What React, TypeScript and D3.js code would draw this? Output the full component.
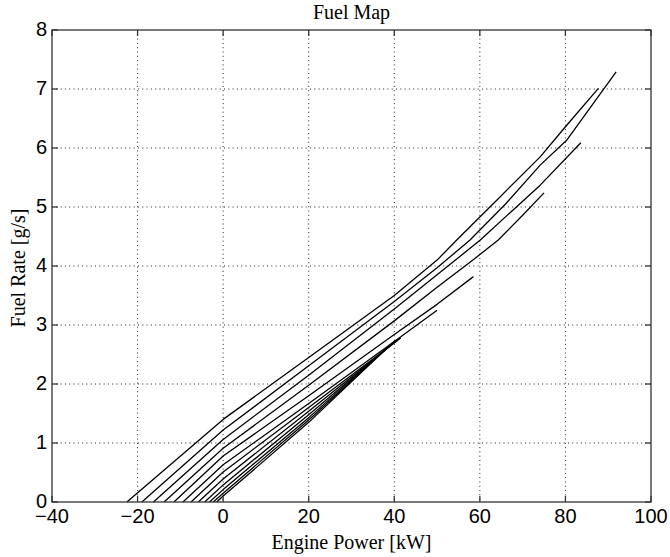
import React, { useEffect, useRef } from "react";
import * as d3 from "d3";

// engine power [kW] / fuel rate [g/s] pairs, one list per speed line
const speedLine1 = [[-22.5, 0], [0, 1.4], [20, 2.45], [40, 3.5], [50, 4.1], [54.6, 4.44], [64, 5.12], [74.1, 5.85], [80, 6.36], [87.7, 7.01]];
const speedLine2 = [[-19, 0], [0, 1.22], [20, 2.31], [40, 3.4], [50, 3.97], [57.7, 4.44], [66, 5.05], [74.1, 5.71], [80.4, 6.14], [91.85, 7.29]];
const speedLine3 = [[-16.3, 0], [0, 1.06], [20, 2.15], [40, 3.27], [50, 3.85], [60.1, 4.44], [67, 4.9], [74.1, 5.37], [83.6, 6.09]];
const speedLine4 = [[-13.8, 0], [0, 0.91], [20, 1.98], [40, 3.07], [50, 3.64], [58, 4.08], [64.3, 4.44], [70, 4.86], [75, 5.24]];
const speedLine5 = [[-11.5, 0], [0, 0.78], [20, 1.8], [40, 2.84], [50, 3.35], [58.5, 3.82]];
const speedLine6 = [[-9.4, 0], [0, 0.63], [20, 1.67], [40, 2.72], [50, 3.25]];
const speedLine7 = [[-7.5, 0], [0, 0.51], [20, 1.6], [41.5, 2.78]];
const speedLine8 = [[-5.8, 0], [0, 0.39], [20, 1.54], [41.2, 2.77]];
const speedLine9 = [[-4.3, 0], [0, 0.29], [20, 1.48], [40.8, 2.76]];
const speedLine10 = [[-3.2, 0], [0, 0.21], [20, 1.43], [40.4, 2.74]];
const speedLine11 = [[-2.3, 0], [0, 0.15], [20, 1.39], [40, 2.72]];
const speedLine12 = [[-1.5, 0], [0, 0.1], [20, 1.35], [39.6, 2.7]];

const xTicks = [-40, -20, 0, 20, 40, 60, 80, 100];
const yTicks = [0, 1, 2, 3, 4, 5, 6, 7, 8];

const App = () => {
  const ref = useRef<SVGSVGElement | null>(null);

  useEffect(() => {
    if (!ref.current) return;
    const width = 670, height = 557;
    const left = 52, right = 651, top = 30, bottom = 502;

    const svg = d3.select(ref.current);
    svg.selectAll("*").remove();

    const x = d3.scaleLinear().domain([-40, 100]).range([left, right]);
    const y = d3.scaleLinear().domain([0, 8]).range([bottom, top]);

    // dotted grid
    const grid = svg.append("g").attr("stroke", "#222").attr("stroke-width", 1).attr("stroke-dasharray", "1,3.3");
    grid.selectAll(".gx")
      .data(xTicks.slice(1, -1))
      .enter()
      .append("line")
      .attr("x1", d => x(d)).attr("x2", d => x(d))
      .attr("y1", top).attr("y2", bottom);
    grid.selectAll(".gy")
      .data(yTicks.slice(1, -1))
      .enter()
      .append("line")
      .attr("x1", left).attr("x2", right)
      .attr("y1", d => y(d)).attr("y2", d => y(d));

    // curves
    const curves = [speedLine1, speedLine2, speedLine3, speedLine4, speedLine5, speedLine6,
      speedLine7, speedLine8, speedLine9, speedLine10, speedLine11, speedLine12];
    const line = d3.line<number[]>().x(d => x(d[0])).y(d => y(d[1]));
    svg.append("g")
      .selectAll("path")
      .data(curves)
      .enter()
      .append("path")
      .attr("d", d => line(d))
      .attr("fill", "none")
      .attr("stroke", "#000")
      .attr("stroke-width", 1.3)
      .attr("stroke-linejoin", "round");

    // axes box with inward ticks on all sides
    const tickLen = 6;
    const ax = svg.append("g").attr("stroke", "#333").attr("stroke-width", 1.3);
    ax.append("rect")
      .attr("x", left).attr("y", top)
      .attr("width", right - left).attr("height", bottom - top)
      .attr("fill", "none");
    xTicks.forEach(t => {
      ax.append("line").attr("x1", x(t)).attr("x2", x(t)).attr("y1", bottom).attr("y2", bottom - tickLen);
      ax.append("line").attr("x1", x(t)).attr("x2", x(t)).attr("y1", top).attr("y2", top + tickLen);
    });
    yTicks.forEach(t => {
      ax.append("line").attr("x1", left).attr("x2", left + tickLen).attr("y1", y(t)).attr("y2", y(t));
      ax.append("line").attr("x1", right).attr("x2", right - tickLen).attr("y1", y(t)).attr("y2", y(t));
    });

    // tick labels
    const sans = "'Liberation Sans', Arial, sans-serif";
    svg.append("g")
      .selectAll("text")
      .data(xTicks)
      .enter()
      .append("text")
      .attr("x", d => x(d))
      .attr("y", 523)
      .attr("text-anchor", "middle")
      .style("font-family", sans)
      .style("font-size", "20px")
      .text(d => (d < 0 ? "\u2212" + Math.abs(d) : String(d)));

    svg.append("g")
      .selectAll("text")
      .data(yTicks)
      .enter()
      .append("text")
      .attr("x", 47)
      .attr("y", d => y(d) - 1.5)
      .attr("dy", "0.36em")
      .attr("text-anchor", "end")
      .style("font-family", sans)
      .style("font-size", "20px")
      .text(d => String(d));

    const serif = "'Liberation Serif', 'Times New Roman', serif";
    svg.append("text")
      .attr("x", (left + right) / 2)
      .attr("y", 19)
      .attr("text-anchor", "middle")
      .style("font-family", serif)
      .style("font-size", "20px")
      .text("Fuel Map");

    svg.append("text")
      .attr("x", (left + right) / 2)
      .attr("y", 549)
      .attr("text-anchor", "middle")
      .style("font-family", serif)
      .style("font-size", "20px")
      .text("Engine Power [kW]");

    svg.append("text")
      .attr("transform", `translate(25,${(top + bottom) / 2 + 2}) rotate(-90)`)
      .attr("text-anchor", "middle")
      .style("font-family", serif)
      .style("font-size", "20px")
      .text("Fuel Rate [g/s]");

    svg.attr("width", width).attr("height", height);
  }, []);

  return (
    <svg
      ref={ref}
      width={670}
      height={557}
      style={{ position: "absolute", left: 0, top: 0, background: "#fff" }}
    />
  );
};

export default App;
